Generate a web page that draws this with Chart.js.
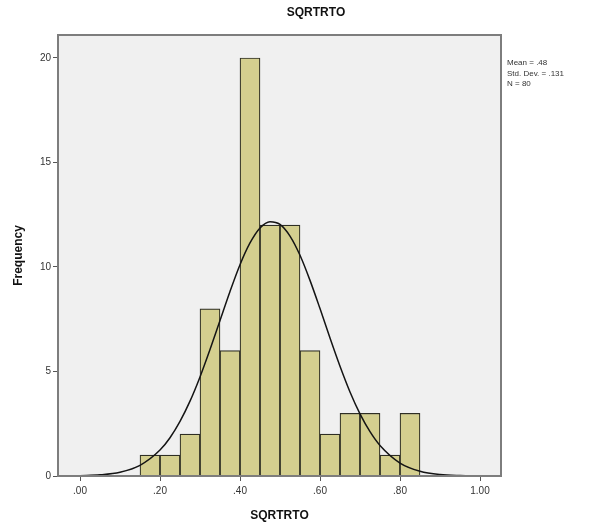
<!DOCTYPE html>
<html>
<head>
<meta charset="utf-8">
<script src="https://cdn.jsdelivr.net/npm/chart.js@4/dist/chart.umd.min.js"></script>
<style>
html,body{margin:0;padding:0;background:#fff;}
#wrap{width:597px;height:527px;position:relative;}
</style>
</head>
<body>
<div id="wrap"><canvas id="c" width="597" height="527"></canvas></div>
<script>
// Histogram bins (centers) and frequencies
const binCenters = [0.175,0.225,0.275,0.325,0.375,0.425,0.475,0.525,0.575,0.625,0.675,0.725,0.775,0.825];
const frequencies = [1,1,2,8,6,20,12,12,6,2,3,3,1,3];
// Normal curve
const curveX = [0.00,0.05,0.10,0.15,0.20,0.225,0.25,0.275,0.30,0.325,0.35,0.375,0.40,0.425,0.45,0.475,0.50,0.525,0.55,0.575,0.60,0.625,0.65,0.675,0.70,0.725,0.75,0.80,0.85,0.90,0.95,1.00];
const curveY = [0.015,0.056,0.18,0.51,1.24,1.83,2.61,3.58,4.74,6.05,7.44,8.83,10.11,11.15,11.87,12.17,12.04,11.48,10.56,9.36,8.01,6.60,5.25,4.02,2.97,2.12,1.46,0.62,0.23,0.07,0.02,0.005];
const xTickValues = [0,0.2,0.4,0.6,0.8,1.0];
const xTickLabels = ['.00','.20','.40','.60','.80','1.00'];
const yTickValues = [0,5,10,15,20];
const yTickLabels = ['0','5','10','15','20'];
const chartTitle = 'SQRTRTO';
const xTitle = 'SQRTRTO';
const yTitle = 'Frequency';
const statsLines = ['Mean = .48','Std. Dev. = .131','N = 80'];

const barData = binCenters.map((x,i)=>({x:x,y:frequencies[i]}));
const curveData = curveX.map((x,i)=>({x:x,y:curveY[i]}));

const decor = {
  id:'decor',
  beforeDraw(chart){
    const {ctx, chartArea:a} = chart;
    ctx.save();
    ctx.fillStyle = '#f0f0f0';
    ctx.fillRect(a.left, a.top, a.right-a.left, a.bottom-a.top);
    ctx.restore();
  },
  afterDraw(chart){
    const {ctx, chartArea:a} = chart;
    ctx.save();
    ctx.strokeStyle = '#7d7d7d';
    ctx.lineWidth = 2;
    ctx.strokeRect(a.left, a.top, a.right-a.left, a.bottom-a.top);
    ctx.fillStyle = '#111';
    ctx.font = 'bold 12px "Liberation Sans", Arial, sans-serif';
    ctx.textAlign = 'center';
    ctx.textBaseline = 'middle';
    ctx.fillText(chartTitle, 316, 13);
    ctx.font = '8px "Liberation Sans", Arial, sans-serif';
    ctx.fillStyle = '#333';
    ctx.textAlign = 'left';
    statsLines.forEach((t,i)=>ctx.fillText(t, 507, 63 + i*10.5));
    ctx.restore();
  }
};

new Chart(document.getElementById('c'), {
  type:'bar',
  data:{
    datasets:[
      {type:'line', data:curveData, borderColor:'#141414', borderWidth:1.5, pointRadius:0, fill:false, cubicInterpolationMode:'monotone', order:0},
      {type:'bar', data:barData, backgroundColor:'#d4cf8f', borderColor:'#2e2e24', borderWidth:1.2, barPercentage:1, categoryPercentage:1, order:1}
    ]
  },
  options:{
    responsive:false,
    animation:false,
    events:[],
    layout:{padding:{left:0, top:35, right:96, bottom:0}},
    plugins:{legend:{display:false}, tooltip:{enabled:false}, title:{display:false}},
    scales:{
      x:{
        type:'linear', min:-0.055, max:1.0525, offset:false,
        grid:{display:true, drawOnChartArea:false, drawTicks:true, tickLength:5, color:'#555', offset:false},
        border:{display:false},
        afterBuildTicks(s){ s.ticks = xTickValues.map(v=>({value:v})); },
        afterFit(s){ s.height = 51; },
        ticks:{autoSkip:false, maxRotation:0, padding:4, color:'#333', font:{size:10, family:'"Liberation Sans", Arial, sans-serif'},
          callback(v){ const i = xTickValues.findIndex(t=>Math.abs(t-v)<1e-9); return i>=0?xTickLabels[i]:''; }},
        title:{display:true, text:xTitle, color:'#111', font:{size:12, weight:'bold', family:'"Liberation Sans", Arial, sans-serif'}, padding:{top:0,bottom:4}}
      },
      y:{
        type:'linear', min:0, max:21.1,
        grid:{display:true, drawOnChartArea:false, drawTicks:true, tickLength:5, color:'#555'},
        border:{display:false},
        afterBuildTicks(s){ s.ticks = yTickValues.map(v=>({value:v})); },
        afterFit(s){ s.width = 58; },
        ticks:{autoSkip:false, padding:2, color:'#333', font:{size:10, family:'"Liberation Sans", Arial, sans-serif'},
          callback(v){ const i = yTickValues.indexOf(v); return i>=0?yTickLabels[i]:''; }},
        title:{display:true, text:yTitle, color:'#111', font:{size:12, weight:'bold', family:'"Liberation Sans", Arial, sans-serif'}, padding:{top:11,bottom:0}}
      }
    }
  },
  plugins:[decor]
});
</script>
</body>
</html>
